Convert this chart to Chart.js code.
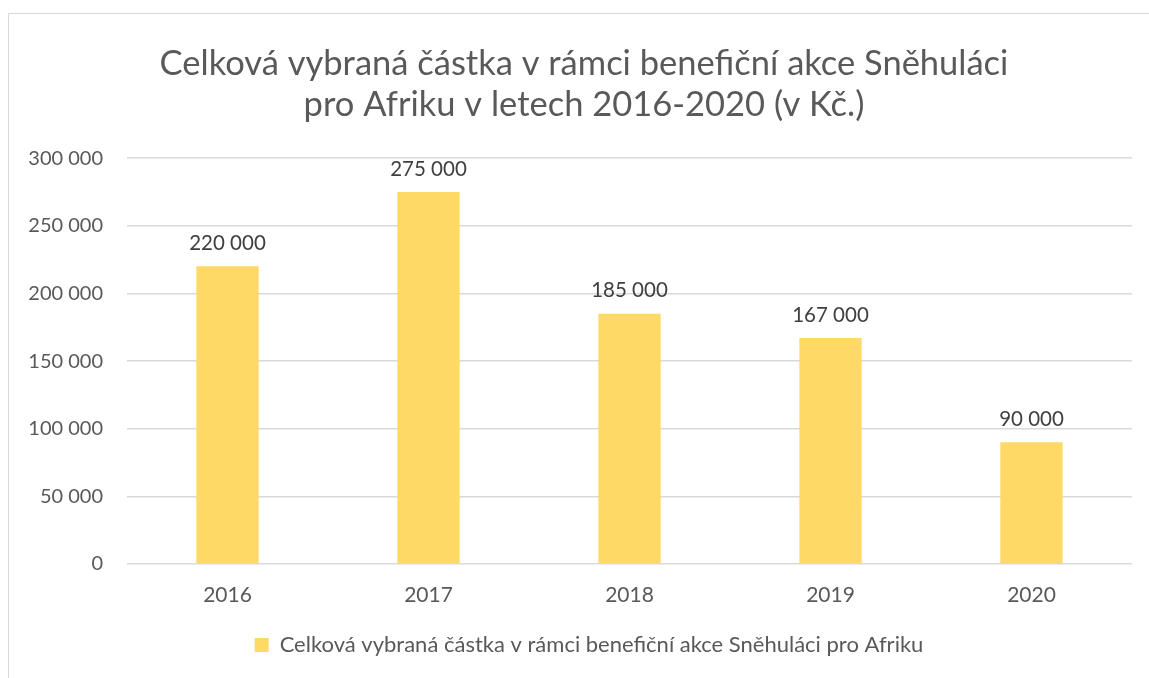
<!DOCTYPE html>
<html>
<head>
<meta charset="utf-8">
<script src="https://cdn.jsdelivr.net/npm/chart.js@4.4.0/dist/chart.umd.min.js"></script>
<style>
  body { margin: 0; background: #fff; overflow: hidden; }
  #frame { position: absolute; left: 8px; top: 13px; width: 1200px; height: 700px; border: 1px solid #d9d9d9; }
  #wrap { position: absolute; left: 0; top: 0; width: 1149px; height: 678px; }
</style>
</head>
<body>
<div id="frame"></div>
<div id="wrap"><canvas id="myChart"></canvas></div>
<script>
var years = ['2016', '2017', '2018', '2019', '2020'];
var amounts = [220000, 275000, 185000, 167000, 90000];
var seriesName = 'Celková vybraná částka v rámci benefiční akce Sněhuláci pro Afriku';
var titleLines = ['Celková vybraná částka v rámci benefiční akce Sněhuláci', 'pro Afriku v letech 2016-2020 (v Kč.)'];

var textColor = '#595959';
var fontFamily = 'Lato, "Noto Sans", sans-serif';

function czNumber(v) {
    return String(v).replace(/\B(?=(\d{3})+(?!\d))/g, ' ');
}

// value above each bar
var valueLabels = {
    id: 'valueLabels',
    afterDatasetsDraw: function (chart) {
        var ctx = chart.ctx;
        ctx.save();
        ctx.font = '20.5px ' + fontFamily;
        ctx.fillStyle = '#404040';
        ctx.textAlign = 'center';
        ctx.textBaseline = 'middle';
        chart.getDatasetMeta(0).data.forEach(function (bar, i) {
            ctx.fillText(czNumber(amounts[i]), bar.x, bar.y - 23);
        });
        ctx.restore();
    }
};

// title and legend sit a bit right of the canvas centre in the original
var boxShift = {
    id: 'boxShift',
    afterLayout: function (chart) {
        chart.legend.left += 23;
        chart.legend.right += 23;
        chart.titleBlock.left += 18;
        chart.titleBlock.right += 18;
    }
};

var ctx = document.getElementById('myChart').getContext('2d');
var myChart = new Chart(ctx, {
    type: 'bar',
    data: {
        labels: years,
        datasets: [{
            label: seriesName,
            data: amounts,
            backgroundColor: '#FFD966',
            categoryPercentage: 1,
            barPercentage: 0.31
        }]
    },
    plugins: [valueLabels, boxShift],
    options: {
        responsive: true,
        maintainAspectRatio: false,
        animation: false,
        layout: { padding: { top: 0, right: 17, bottom: 12, left: 0 } },
        plugins: {
            title: {
                display: true,
                text: titleLines,
                color: textColor,
                font: { family: fontFamily, size: 34.5, weight: 'normal', lineHeight: 1.19 },
                padding: { top: 43, bottom: 33 }
            },
            legend: {
                position: 'bottom',
                labels: {
                    color: textColor,
                    font: { family: fontFamily, size: 22 },
                    boxWidth: 14,
                    boxHeight: 14,
                    padding: 10
                }
            },
            tooltip: { enabled: false }
        },
        scales: {
            x: {
                grid: { display: false, drawTicks: false },
                border: { display: false },
                ticks: { color: textColor, font: { family: fontFamily, size: 21 }, padding: 19 },
                afterFit: function (scale) { scale.height = 60; }
            },
            y: {
                min: 0,
                max: 300000,
                grid: { color: '#d9d9d9', lineWidth: 1.5, drawTicks: false },
                border: { display: false },
                ticks: {
                    stepSize: 50000,
                    color: textColor,
                    font: { family: fontFamily, size: 20 },
                    padding: 24,
                    callback: function (v) { return czNumber(v); }
                },
                afterFit: function (scale) { scale.width = 127; }
            }
        }
    }
});
</script>
</body>
</html>
